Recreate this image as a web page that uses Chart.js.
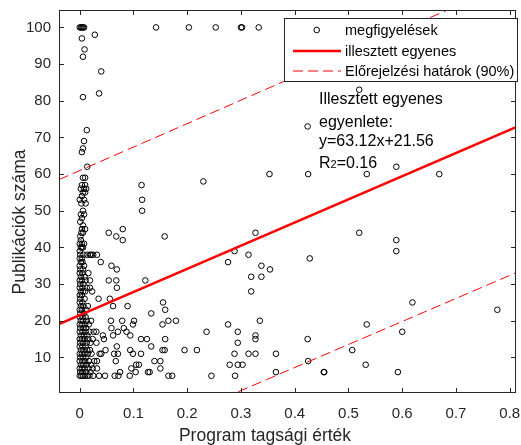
<!DOCTYPE html>
<html>
<head>
<meta charset="utf-8">
<script src="https://cdn.jsdelivr.net/npm/chart.js@4/dist/chart.umd.min.js"></script>
<style>
  html, body { margin: 0; padding: 0; background: #fff; }
  #wrap { position: relative; width: 521px; height: 445px; }
</style>
</head>
<body>
<div id="wrap"><canvas id="c" width="521" height="445"></canvas></div>
<script>
// megfigyelések (program tagsági érték, publikációk száma)
const obsX = [
  // felső sor és ritka pontok
  0.142, 0.203, 0.253, 0.300, 0.302, 0.333,
  0.520, 0.424, 0.353, 0.425, 0.534, 0.589, 0.669, 0.230,
  0.115, 0.116, 0.116,
  0.520, 0.589, 0.589, 0.428, 0.338, 0.354, 0.338, 0.619, 0.777, 0.335, 0.534, 0.600, 0.424,
  0.507, 0.365, 0.425, 0.532, 0.365, 0.454, 0.455, 0.592,
  0.158, 0.327, 0.288, 0.314, 0.276, 0.319, 0.319, 0.155, 0.159, 0.133, 0.154, 0.165, 0.179,
  0.276, 0.236, 0.294, 0.327, 0.327, 0.294, 0.159, 0.133, 0.154, 0.158, 0.195, 0.218,
  0.288, 0.314, 0.327, 0.139, 0.150, 0.279, 0.294, 0.303, 0.150, 0.165, 0.172, 0.245, 0.289, 0.130,
  0.054, 0.068, 0.080, 0.080, 0.039, 0.032, 0.059, 0.069, 0.054, 0.068, 0.069, 0.122,
  0.035, 0.056, 0.062, 0.089, 0.058, 0.079, 0.101, 0.099, 0.059, 0.082, 0.071, 0.087,
  0.062, 0.094, 0.031, 0.043, 0.045, 0.114, 0.125, 0.031, 0.069, 0.048, 0.037, 0.040,
  0.064, 0.071, 0.094, 0.099, 0.114, 0.032, 0.067, 0.105, 0.110, 0.096, 0.032, 0.075,
  0.104, 0.127, 0.036, 0.047, 0.065, 0.072, 0.093,
  // oszlop x≈0 felett
  0.000, 0.002, 0.004, 0.006, 0.008, 0.004, 0.028, 0.009, 0.006, 0.040, 0.036, 0.006,
  0.013, 0.008, 0.006, 0.004, 0.014,
  0.006, 0.010, 0.004, 0.010, 0.002, 0.008, 0.012, 0.006, 0.010, 0.004, 0.000, 0.008,
  0.003, 0.011, 0.006, 0.002, 0.008, 0.004, 0.001, 0.006, 0.010, 0.004,
  // sűrű oszlop x≈0
  0.000, 0.003, 0.006, 0.010, 0.014, 0.018, 0.025,
  0.001, 0.005, 0.012, 0.020,
  0.000, 0.004, 0.009, 0.016, 0.024,
  0.002, 0.007, 0.013, 0.021,
  0.000, 0.005, 0.010, 0.017, 0.027,
  0.001, 0.006, 0.012,
  0.000, 0.004, 0.009, 0.015, 0.022,
  0.002, 0.007, 0.014, 0.019,
  0.000, 0.005, 0.011,
  0.001, 0.006, 0.013, 0.020,
  0.000, 0.004, 0.009, 0.016, 0.024,
  0.002, 0.008, 0.014,
  0.000, 0.005, 0.011, 0.018, 0.026,
  0.001, 0.007, 0.012,
  0.000, 0.004, 0.010, 0.017,
  0.002, 0.006, 0.013, 0.021,
  0.000, 0.005, 0.011,
  0.001, 0.008,
  0.000, 0.004, 0.012,
  0.002, 0.007, 0.015,
  0.000, 0.005,
  0.001, 0.009,
  0.000, 0.004,
  0.002, 0.006, 0.010,
  0.000, 0.005, 0.013,
  0.001, 0.007,
  0.000, 0.004, 0.011,
  0.002, 0.009,
  0.000, 0.005,
  0.001, 0.006,
  0.000, 0.008,
  0.002, 0.005,
  0.000, 0.004,
  0.001, 0.007, 0.014, 0.021,
  0.000,
  0.002, 0.006,
  0.000, 0.004,
  0.001, 0.003, 0.006, 0.008, 0.002, 0.004,
  0.019, 0.023, 0.016, 0.019, 0.019, 0.025
]
const obsY = [
  100, 100, 100, 100, 100, 100,
  83, 73, 60, 60, 60, 62, 60, 58,
  57, 53, 50,
  44, 42, 39, 37, 35, 34, 32, 25, 23, 20, 19, 17, 15,
  12, 11, 9, 8, 6, 6, 6, 6,
  43, 44, 39, 38, 36, 32, 28, 25, 23, 22, 19, 20, 20,
  19, 17, 17, 16, 15, 14, 15, 13, 12, 12, 12, 12,
  11, 11, 11, 9, 9, 8, 8, 8, 7, 5, 5, 5, 5, 6,
  44, 43, 45, 42, 36, 38, 35, 34, 31, 31, 29, 31,
  26, 26, 24, 24, 20, 20, 20, 19, 18, 18, 17, 17,
  16, 16, 17, 16, 15, 15, 15, 14, 13, 12, 11, 11,
  11, 11, 12, 11, 11, 9, 9, 8, 8, 7, 7, 6,
  6, 6, 5, 5, 5, 5, 5,
  100, 100, 100, 100, 100, 97, 98, 94, 92, 88, 82, 81,
  72, 69, 67, 66, 62,
  59, 59, 57, 57, 56, 56, 56, 55, 55, 54, 53, 53,
  52, 52, 50, 49, 49, 48, 47, 46, 45, 45,
  5, 5, 5, 5, 5, 5, 5,
  6, 6, 6, 6,
  7, 7, 7, 7, 7,
  8, 8, 8, 8,
  9, 9, 9, 9, 9,
  10, 10, 10,
  11, 11, 11, 11, 11,
  12, 12, 12, 12,
  13, 13, 13,
  14, 14, 14, 14,
  15, 15, 15, 15, 15,
  16, 16, 16,
  17, 17, 17, 17, 17,
  18, 18, 18,
  19, 19, 19, 19,
  20, 20, 20, 20,
  21, 21, 21,
  22, 22,
  23, 23, 23,
  24, 24, 24,
  25, 25,
  26, 26,
  27, 27,
  28, 28, 28,
  29, 29, 29,
  30, 30,
  31, 31, 31,
  32, 32,
  33, 33,
  34, 34,
  35, 35,
  36, 36,
  37, 37,
  38, 38, 38, 38,
  39,
  40, 40,
  41, 41,
  43, 44, 44, 41, 42, 40,
  29, 28, 33, 31, 38, 38
]

// illesztett egyenes és előrejelzési határok (végpontok a tengelyhatárokon)
const fitX = [-0.0386, 0.8117]
const fitY = [19.12, 72.79]
const upperX = [-0.0386, 0.8117]
const upperY = [58.5, 112.9]
const lowerX = [-0.0386, 0.8117]
const lowerY = [-20.3, 33.1]

const xTicks = [0, 0.1, 0.2, 0.3, 0.4, 0.5, 0.6, 0.7, 0.8]
const yTicks = [10, 20, 30, 40, 50, 60, 70, 80, 90, 100]

const X_TITLE = 'Program tagsági érték'
const Y_TITLE = 'Publikációk száma'
const LEGEND = ['megfigyelések', 'illesztett egyenes', 'Előrejelzési határok (90%)']
const NOTE = ['Illesztett egyenes', 'egyenlete:', 'y=63.12x+21.56']

const AXIS = '#262626'
const TXT = '#262626'
const FONT = "'Liberation Sans', Arial, sans-serif"

const pts = (xs, ys) => xs.map((v, i) => ({ x: v, y: ys[i] }))

// a tengelyek ne toljanak a rajzterületen a címkék miatt
function noPad(s) {
  s.paddingTop = 0; s.paddingBottom = 0; s.paddingLeft = 0; s.paddingRight = 0
}

// doboz, befelé mutató osztások, tengelycímek, jelmagyarázat és felirat
const frame = {
  id: 'frame',
  afterDatasetsDraw(chart) {
    const { ctx, chartArea: a, scales: { x, y } } = chart
    const ds = chart.data.datasets
    ctx.save()
    ctx.strokeStyle = AXIS
    ctx.lineWidth = 1
    ctx.strokeRect(a.left + 0.5, a.top + 0.5, a.right - a.left - 1, a.bottom - a.top - 1)
    ctx.beginPath()
    xTicks.forEach(v => {
      const p = Math.round(x.getPixelForValue(v)) + 0.5
      ctx.moveTo(p, a.bottom); ctx.lineTo(p, a.bottom - 5)
      ctx.moveTo(p, a.top); ctx.lineTo(p, a.top + 5)
    })
    yTicks.forEach(v => {
      const p = Math.round(y.getPixelForValue(v)) + 0.5
      ctx.moveTo(a.left, p); ctx.lineTo(a.left + 5, p)
      ctx.moveTo(a.right, p); ctx.lineTo(a.right - 5, p)
    })
    ctx.stroke()

    // tengelycímek
    ctx.fillStyle = TXT
    ctx.font = '17.5px ' + FONT
    ctx.textAlign = 'center'
    ctx.textBaseline = 'alphabetic'
    ctx.fillText(X_TITLE, 265, 441)
    ctx.save()
    ctx.translate(24.5, 222)
    ctx.rotate(-Math.PI / 2)
    ctx.fillText(Y_TITLE, 0, 0)
    ctx.restore()

    // jelmagyarázat
    const bx = 284.5, by = 18.5, bw = 233, bh = 63
    ctx.fillStyle = '#fff'
    ctx.fillRect(bx, by, bw, bh)
    ctx.strokeStyle = AXIS
    ctx.strokeRect(bx, by, bw, bh)
    const rows = [30, 51, 71]
    const obs = ds[3], fit = ds[0], band = ds[1]
    ctx.beginPath()
    ctx.arc(316.7, rows[0], obs.pointRadius, 0, Math.PI * 2)
    ctx.strokeStyle = obs.borderColor
    ctx.lineWidth = obs.borderWidth
    ctx.stroke()
    ctx.beginPath()
    ctx.strokeStyle = fit.borderColor
    ctx.lineWidth = fit.borderWidth
    ctx.moveTo(293, rows[1]); ctx.lineTo(341, rows[1])
    ctx.stroke()
    ctx.beginPath()
    ctx.strokeStyle = band.borderColor
    ctx.lineWidth = band.borderWidth
    ctx.setLineDash(band.borderDash)
    ctx.moveTo(293, rows[2]); ctx.lineTo(341, rows[2])
    ctx.stroke()
    ctx.setLineDash([])
    ctx.fillStyle = '#000'
    ctx.font = '14.5px ' + FONT
    ctx.textBaseline = 'middle'
    ctx.textAlign = 'left'
    LEGEND.forEach((t, i) => ctx.fillText(t, 345, rows[i] + 0.5))

    // egyenlet felirat
    ctx.font = '16px ' + FONT
    ctx.textBaseline = 'alphabetic'
    const base = [104, 127, 146]
    NOTE.forEach((t, i) => ctx.fillText(t, 319, base[i]))
    ctx.fillText('R', 319, 168)
    let cx = 319 + ctx.measureText('R').width
    ctx.font = '11px ' + FONT
    ctx.fillText('2', cx, 168)
    cx += ctx.measureText('2').width
    ctx.font = '16px ' + FONT
    ctx.fillText('=0.16', cx, 168)
    ctx.restore()
  }
}

Chart.defaults.font.family = FONT
Chart.defaults.color = TXT

new Chart(document.getElementById('c'), {
  type: 'scatter',
  data: {
    datasets: [
      { label: LEGEND[1], data: pts(fitX, fitY), showLine: true, borderColor: '#ff0000', borderWidth: 2.5, pointRadius: 0, clip: 0 },
      { label: LEGEND[2], data: pts(upperX, upperY), showLine: true, borderColor: '#ff0000', borderWidth: 1, borderDash: [10, 5], pointRadius: 0, clip: 0 },
      { label: '', data: pts(lowerX, lowerY), showLine: true, borderColor: '#ff0000', borderWidth: 1, borderDash: [10, 5], pointRadius: 0, clip: 0 },
      { label: LEGEND[0], data: pts(obsX, obsY), pointStyle: 'circle', pointRadius: 2.8, borderWidth: 1, borderColor: '#000', backgroundColor: 'rgba(0,0,0,0)', clip: 0 },
    ],
  },
  options: {
    responsive: false,
    animation: false,
    events: [],
    layout: { padding: { top: 10, right: 2, left: 0, bottom: 0 } },
    plugins: { legend: { display: false }, tooltip: { enabled: false } },
    scales: {
      x: {
        type: 'linear', min: -0.0386, max: 0.8117,
        afterBuildTicks: s => { s.ticks = xTicks.map(v => ({ value: v })) },
        afterFit: s => { s.height = 52; noPad(s) },
        grid: { display: false, drawTicks: false },
        border: { display: false },
        ticks: { font: { size: 15 }, color: TXT, padding: 12, maxRotation: 0, callback: v => String(v) },
        title: { display: false },
      },
      y: {
        type: 'linear', min: 0.3, max: 104.75,
        afterBuildTicks: s => { s.ticks = yTicks.map(v => ({ value: v })) },
        afterFit: s => { s.width = 59; noPad(s) },
        grid: { display: false, drawTicks: false },
        border: { display: false },
        ticks: { font: { size: 15 }, color: TXT, padding: 8, callback: v => String(v) },
        title: { display: false },
      },
    },
  },
  plugins: [frame],
})
</script>
</body>
</html>
